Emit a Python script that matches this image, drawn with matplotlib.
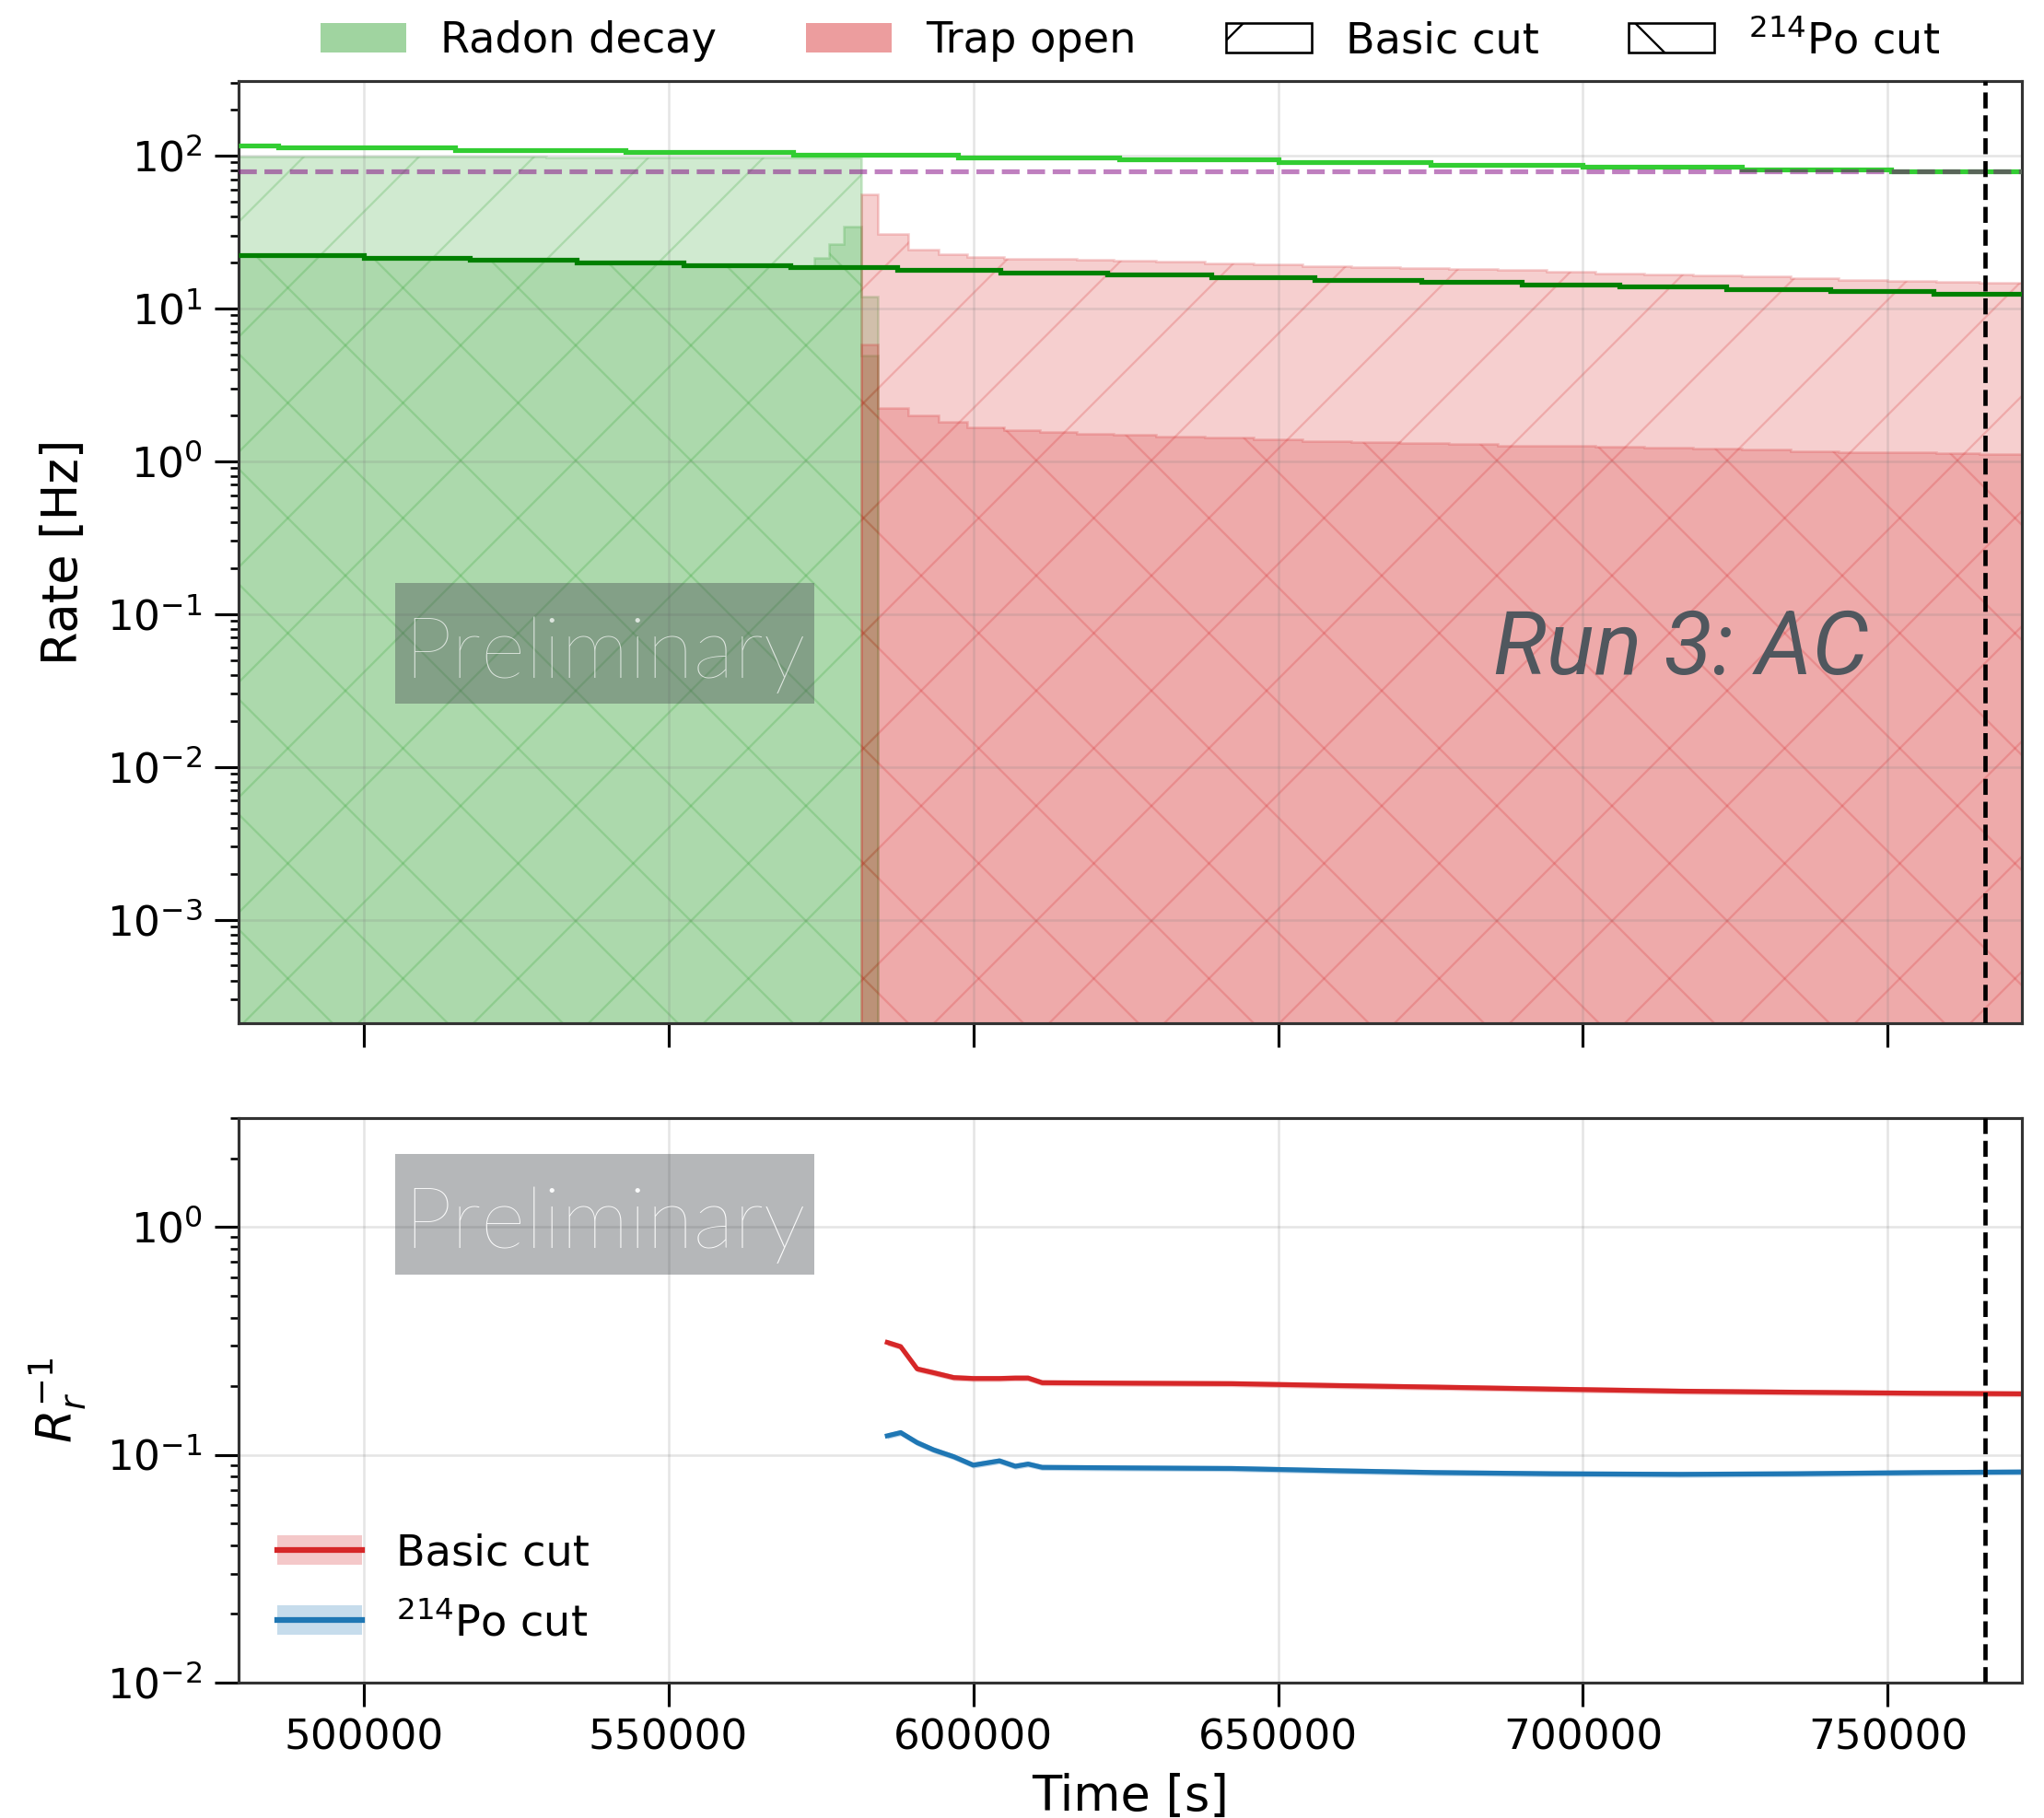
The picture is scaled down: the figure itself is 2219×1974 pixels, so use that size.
import matplotlib.pyplot as plt
from matplotlib.patches import Patch, Rectangle
from matplotlib.lines import Line2D

# ---- values ----
t_min, t_max = 479500, 772000
t_end_marker = 766000
rn_threshold = 79.0

# Radon decay: step curves (top panel lines)
rn_basic_line_edges = [479500, 486000, 515000, 543000, 570500, 597500, 624000,
                       650000, 675000, 700000, 726000, 750500, 772000]
rn_basic_line = [117, 113, 109, 105, 101, 97.5, 94, 90.5, 87, 84, 81, 79]
rn_po_line_edges = [479500, 500000, 517500, 535000, 552500, 570000, 587500,
                    604500, 622000, 639000, 656000, 673500, 690000, 706000,
                    723500, 740500, 757500, 772000]
rn_po_line = [22.3, 21.5, 20.7, 19.9, 19.2, 18.5, 17.8, 17.2, 16.6, 16.0,
              15.4, 14.9, 14.4, 13.9, 13.4, 12.9, 12.5]

# Radon decay histograms
rn_basic_edges = [479500, 530000, 581700, 584400]
rn_basic_rate = [98.5, 97.5, 11.9]
rn_po_edges = [479500, 500000, 517500, 535000, 552500, 570000, 574000,
               576400, 578700, 581700, 584400]
rn_po_rate = [22.3, 21.5, 20.7, 19.9, 19.2, 18.6, 21.5, 26.3, 34.4, 4.9]

# Trap open histograms
trap_edges = [581700, 584400, 589400, 594400, 599000, 605000, 611000, 617000,
              623000, 630000, 638000, 646000, 654000, 662000, 670000, 678000,
              686000, 694000, 702000, 710000, 718000, 726000, 734000, 742000,
              750000, 758000, 765000, 772000]
trap_basic_rate = [56, 30.7, 24.3, 22.7, 21.7, 21.2, 21.0, 20.7, 20.4, 20.1,
                   19.7, 19.3, 19.0, 18.7, 18.4, 18.1, 17.8, 17.4, 17.0, 16.7,
                   16.4, 16.1, 15.7, 15.4, 15.1, 14.9, 14.7]
trap_po_rate = [5.8, 2.24, 1.99, 1.80, 1.66, 1.60, 1.56, 1.52, 1.49, 1.45,
                1.42, 1.39, 1.36, 1.33, 1.31, 1.29, 1.27, 1.26, 1.24, 1.23,
                1.21, 1.19, 1.16, 1.15, 1.14, 1.13, 1.12]

# Inverse rejection ratio (bottom panel)
ratio_t = [585900, 588100, 590800, 593500, 596800, 600000, 604300, 606900,
           609000, 611300, 625000, 642400, 660000, 675800, 695000, 716000,
           735000, 756200, 772000]
ratio_basic = [0.311, 0.298, 0.238, 0.229, 0.218, 0.216, 0.216, 0.217, 0.217,
               0.207, 0.206, 0.205, 0.201, 0.198, 0.194, 0.190, 0.188, 0.186,
               0.185]
ratio_po = [0.121, 0.125, 0.113, 0.105, 0.098, 0.090, 0.094, 0.089, 0.091,
            0.088, 0.0875, 0.087, 0.085, 0.0835, 0.0825, 0.082, 0.0825,
            0.0835, 0.084]
ratio_rel_err = 0.03

plt.rcParams.update({
    "font.size": 8.7,
    "axes.labelsize": 10.1,
    "legend.fontsize": 8.9,
    "hatch.linewidth": 0.45,
    "axes.linewidth": 0.6,
    "axes.edgecolor": "#333333",
})

DPI = 375
fig = plt.figure(figsize=(2219 / DPI, 1974 / DPI), dpi=DPI)
ax1 = fig.add_axes([0.1167, 0.4372, 0.8725, 0.5182])
ax2 = fig.add_axes([0.1167, 0.0745, 0.8725, 0.3105], sharex=ax1)

# Top panel: rate histograms
fill_kw = dict(fill=True, baseline=1e-6, alpha=0.22, linewidth=0.5)
ax1.stairs(rn_basic_rate, rn_basic_edges, facecolor="tab:green",
           edgecolor="tab:green", hatch="/", **fill_kw)
ax1.stairs(rn_po_rate, rn_po_edges, facecolor="tab:green",
           edgecolor="tab:green", hatch="\\", **fill_kw)
ax1.stairs(trap_basic_rate, trap_edges, facecolor="tab:red",
           edgecolor="tab:red", hatch="/", **fill_kw)
ax1.stairs(trap_po_rate, trap_edges, facecolor="tab:red",
           edgecolor="tab:red", hatch="\\", **fill_kw)

ax1.stairs(rn_basic_line, rn_basic_line_edges, baseline=None,
           color="limegreen", lw=1.0, zorder=3)
ax1.stairs(rn_po_line, rn_po_line_edges, baseline=None,
           color="green", lw=1.0, zorder=3)
ax1.axhline(rn_threshold, color="purple", alpha=0.5, ls="--", lw=1.0, zorder=3)
ax1.axvline(t_end_marker, color="black", ls="--", lw=0.9, zorder=4)

ax1.set_yscale("log")
ax1.set_ylim(2.1e-4, 307)
ax1.set_ylabel("Rate [Hz]")
plt.setp(ax1.get_xticklabels(), visible=False)

top_handles = [
    Patch(facecolor="tab:green", alpha=0.45, label="Radon decay"),
    Patch(facecolor="tab:red", alpha=0.45, label="Trap open"),
    Patch(facecolor="white", edgecolor="black", lw=0.5, hatch="/", label="Basic cut"),
    Patch(facecolor="white", edgecolor="black", lw=0.5, hatch="\\",
          label="$^{214}$Po cut"),
]
ax1.legend(handles=top_handles, loc="lower center", bbox_to_anchor=(0.5, 1.0),
           ncol=4, frameon=False, borderaxespad=0.05, columnspacing=2.1)

# Bottom panel: inverse ratio
for vals, col in [(ratio_basic, "tab:red"), (ratio_po, "tab:blue")]:
    lo = [v * (1 - ratio_rel_err) for v in vals]
    hi = [v * (1 + ratio_rel_err) for v in vals]
    ax2.fill_between(ratio_t, lo, hi, color=col, alpha=0.3, lw=0)
    ax2.plot(ratio_t, vals, color=col, lw=1.0)
ax2.axvline(t_end_marker, color="black", ls="--", lw=0.9, zorder=4)

ax2.set_yscale("log")
ax2.set_ylim(0.01, 3.0)
ax2.set_xlim(t_min, t_max)
ax2.set_xlabel("Time [s]", labelpad=3)
ax2.set_ylabel("$R_r^{-1}$")

bottom_handles = [
    (Patch(facecolor="tab:red", alpha=0.25), Line2D([], [], color="tab:red", lw=1.2)),
    (Patch(facecolor="tab:blue", alpha=0.25), Line2D([], [], color="tab:blue", lw=1.2)),
]
ax2.legend(bottom_handles, ["Basic cut", "$^{214}$Po cut"], loc="lower left",
           frameon=False, labelspacing=0.65)

for ax in (ax1, ax2):
    ax.grid(True, which="major", color="gray", alpha=0.2, lw=0.5)
    ax.tick_params(which="major", length=5, width=0.6, pad=2.5)
    ax.tick_params(which="minor", length=1.8, width=0.5)

# Overlay labels
for y0, y_text, txt_alpha in [(0.6130, 0.6272, 0.72), (0.2989, 0.3136, 0.95)]:
    fig.add_artist(Rectangle((0.1933, y0), 0.2051, 0.0663,
                             transform=fig.transFigure, facecolor="#464b50",
                             alpha=0.4, lw=0, zorder=10))
    fig.text(0.2959, y_text, "Preliminary", ha="center", va="baseline",
             fontsize=17.9, family="Lato", weight="light", color="white",
             alpha=txt_alpha, zorder=11)
fig.text(0.8222, 0.6292, "Run 3: AC", ha="center", va="baseline",
         fontsize=18.6, family="Roboto", style="italic", color="#50575e",
         zorder=11)

fig.savefig("out.png", dpi=DPI)
